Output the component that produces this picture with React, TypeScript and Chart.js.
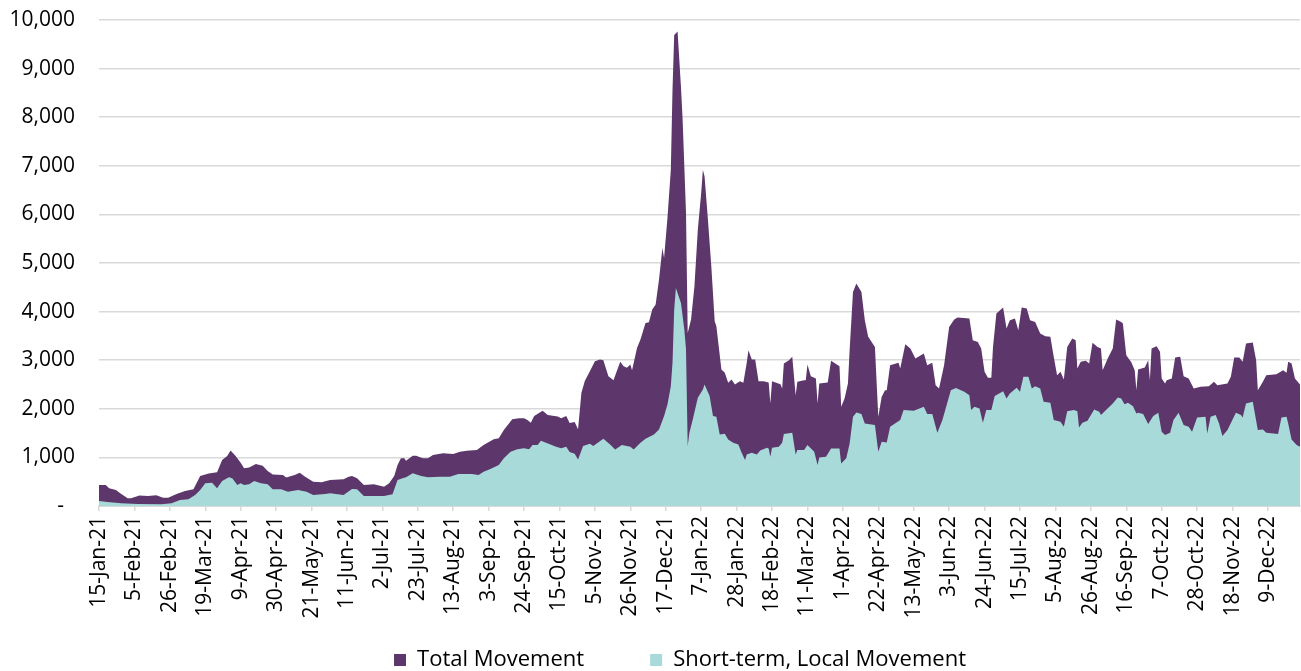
import React, { useEffect, useRef } from 'react';
import { Chart, registerables } from 'chart.js';

Chart.register(...registerables);

const tickLabels = [
  '15-Jan-21', '5-Feb-21', '26-Feb-21', '19-Mar-21', '9-Apr-21', '30-Apr-21', '21-May-21', '11-Jun-21',
  '2-Jul-21', '23-Jul-21', '13-Aug-21', '3-Sep-21', '24-Sep-21', '15-Oct-21', '5-Nov-21', '26-Nov-21',
  '17-Dec-21', '7-Jan-22', '28-Jan-22', '18-Feb-22', '11-Mar-22', '1-Apr-22', '22-Apr-22', '13-May-22',
  '3-Jun-22', '24-Jun-22', '15-Jul-22', '5-Aug-22', '26-Aug-22', '16-Sep-22', '7-Oct-22', '28-Oct-22',
  '18-Nov-22', '9-Dec-22',
];

// days since 15-Jan-21
const totalDays = [
  0, 4, 6, 10, 13, 17, 19, 24, 29, 34, 38, 41, 46, 51, 56, 60, 65, 70, 73, 76, 78, 81, 84, 86, 89, 93, 97,
  100, 103, 109, 111, 116, 119, 122, 127, 132, 137, 145, 148, 150, 153, 157, 163, 169, 172, 175, 177, 179,
  181, 182, 186, 188, 192, 195, 198, 204, 210, 214, 218, 224, 228, 234, 237, 240, 245, 249, 252, 254, 256,
  258, 263, 266, 272, 274, 277, 279, 282, 284, 286, 288, 291, 294, 297, 299, 302, 305, 309, 311, 313, 315,
  316, 319, 321, 324, 326, 328, 330, 332, 334, 335, 337, 339, 340, 341, 343, 345, 346, 348, 349, 351, 353,
  355, 357, 358, 359, 361, 363, 365, 366, 369, 371, 373, 375, 377, 380, 382, 384, 385, 387, 389, 391, 394,
  397, 398, 399, 404, 405, 406, 409, 411, 413, 414, 418, 419, 420, 422, 425, 426, 427, 432, 434, 439, 440,
  442, 444, 445, 447, 449, 452, 454, 456, 460, 462, 464, 466, 467, 469, 474, 475, 478, 481, 484, 489, 491,
  494, 496, 498, 501, 504, 507, 509, 516, 518, 521, 523, 525, 527, 529, 530, 532, 536, 538, 540, 543, 545,
  547, 550, 552, 555, 558, 561, 564, 566, 568, 570, 572, 574, 577, 579, 580, 582, 585, 587, 589, 592, 594,
  595, 598, 601, 603, 606, 607, 609, 612, 614, 615, 616, 620, 622, 623, 624, 627, 629, 630, 632, 633, 636,
  638, 641, 643, 646, 649, 653, 658, 661, 663, 669, 671, 673, 676, 678, 680, 684, 686, 687, 690, 692, 698,
  702, 704, 705, 707, 709, 712,
];
const totalValues = [
  430, 430, 365, 330, 250, 160, 160, 215, 205, 220, 170, 170, 245, 310, 345, 615, 670, 695, 945, 1030, 1140,
  1030, 890, 775, 790, 865, 830, 720, 650, 640, 585, 640, 685, 605, 500, 490, 535, 549, 604, 617, 569, 432,
  446, 398, 466, 617, 844, 981, 981, 933, 1036, 1036, 981, 981, 1050, 1084, 1070, 1118, 1139, 1152, 1255,
  1372, 1392, 1564, 1784, 1804, 1804, 1770, 1715, 1852, 1962, 1873, 1839, 1804, 1852, 1710, 1730, 1580,
  2330, 2570, 2774, 2980, 3014, 3000, 2672, 2589, 2966, 2877, 2843, 2911, 2795, 3254, 3425, 3768, 3781,
  4042, 4144, 4658, 5309, 5104, 5925, 6919, 8563, 9693, 9761, 8631, 7946, 6028, 3562, 3836, 4521, 5686,
  6439, 6919, 6782, 5891, 4932, 3802, 3699, 2809, 2740, 2535, 2603, 2500, 2569, 2535, 2946, 3206, 3014,
  3014, 2569, 2569, 2540, 2110, 2569, 2507, 2418, 2932, 3000, 3069, 2281, 2555, 2589, 2589, 2911, 2672,
  2624, 2110, 2521, 2541, 2987, 2877, 2041, 2213, 2521, 3206, 4405, 4576, 4405, 3822, 3480, 3274, 1836,
  2247, 2384, 2384, 2898, 2946, 2829, 3329, 3240, 3035, 3137, 2898, 2946, 2487, 2418, 2898, 3685, 3840,
  3877, 3856, 3411, 3377, 3240, 2761, 2637, 2637, 3274, 3959, 4083, 3651, 3822, 3856, 3617, 4083, 4062,
  3822, 3788, 3548, 3494, 3480, 3069, 2692, 2761, 2603, 3274, 3446, 3411, 2829, 2966, 2987, 2932, 3357,
  3274, 3240, 2795, 3035, 3240, 3836, 3788, 3754, 3103, 2960, 2795, 2384, 2809, 2850, 3000, 2589, 3240,
  3288, 3172, 2624, 2521, 2589, 2624, 3055, 3069, 2672, 2624, 2418, 2452, 2466, 2555, 2487, 2521, 2658,
  3055, 3055, 2966, 3343, 3363, 3000, 2384, 2555, 2692, 2713, 2795, 2740, 2966, 2932, 2624, 2500,
];

const localDays = [
  0, 5, 13, 23, 37, 43, 48, 53, 57, 60, 63, 67, 70, 73, 77, 79, 82, 84, 86, 89, 92, 96, 100, 103, 108, 112,
  118, 123, 127, 134, 137, 145, 150, 153, 157, 169, 174, 177, 180, 182, 186, 191, 195, 202, 208, 213, 221,
  225, 228, 232, 237, 240, 244, 248, 252, 255, 257, 260, 262, 265, 271, 274, 277, 279, 282, 284, 287, 291,
  293, 299, 303, 306, 310, 315, 317, 321, 324, 329, 332, 335, 337, 339, 340, 341, 342, 345, 347, 348, 349,
  350, 352, 355, 358, 359, 362, 364, 366, 368, 371, 373, 376, 379, 381, 383, 384, 387, 390, 392, 396, 397,
  398, 399, 403, 405, 406, 411, 413, 414, 418, 420, 424, 426, 427, 431, 434, 439, 440, 443, 445, 447, 449,
  452, 454, 460, 462, 464, 467, 469, 475, 477, 483, 489, 491, 494, 497, 500, 505, 508, 513, 516, 517, 519,
  522, 524, 526, 529, 531, 536, 538, 540, 544, 546, 548, 551, 553, 555, 558, 560, 564, 566, 570, 572, 574,
  578, 580, 581, 583, 586, 590, 593, 594, 597, 601, 604, 606, 608, 610, 613, 615, 616, 619, 622, 625, 628,
  630, 632, 635, 637, 640, 643, 646, 648, 651, 656, 657, 659, 662, 664, 666, 669, 674, 677, 678, 680, 684,
  687, 690, 692, 699, 701, 704, 705, 707, 710, 712,
];
const localValues = [
  103, 82, 55, 41, 34, 55, 123, 137, 226, 329, 466, 480, 364, 514, 590, 570, 432, 466, 432, 446, 514, 466,
  446, 343, 343, 295, 329, 295, 226, 247, 261, 226, 350, 343, 206, 206, 240, 535, 569, 590, 672, 617, 590,
  604, 604, 659, 659, 638, 707, 761, 844, 981, 1118, 1166, 1187, 1166, 1255, 1255, 1344, 1303, 1221, 1187,
  1221, 1110, 1075, 955, 1233, 1281, 1233, 1384, 1267, 1165, 1254, 1219, 1165, 1302, 1384, 1473, 1575,
  1850, 2089, 2466, 2946, 4042, 4487, 4179, 3631, 3220, 1233, 1507, 1781, 2226, 2398, 2500, 2261, 1850,
  1836, 1473, 1487, 1370, 1302, 1267, 1096, 945, 1062, 1096, 1062, 1140, 1200, 1185, 1014, 1199, 1219,
  1302, 1480, 1507, 1062, 1151, 1151, 1254, 1117, 843, 1000, 1014, 1185, 1185, 877, 980, 1288, 1836, 1925,
  1891, 1699, 1665, 1117, 1322, 1308, 1630, 1767, 1973, 1959, 2041, 1891, 1891, 1507, 1767, 2384, 2430,
  2350, 2281, 1973, 2041, 2007, 1713, 1973, 1973, 2261, 2363, 2213, 2315, 2432, 2350, 2658, 2658, 2418,
  2466, 2418, 2144, 2124, 1767, 1733, 1630, 1952, 1973, 1952, 1617, 1713, 1754, 1987, 1939, 1870, 1973,
  2110, 2233, 2213, 2096, 2124, 2055, 1904, 1918, 1891, 1685, 1850, 1918, 1528, 1459, 1507, 1767, 1918,
  1665, 1630, 1528, 1822, 1836, 1493, 1836, 1870, 1699, 1439, 1562, 1918, 1870, 1822, 2110, 2144, 1562,
  1576, 1507, 1480, 1822, 1836, 1699, 1370, 1254, 1219,
];

const PURPLE = '#5d366b';
const TEAL = '#a8dad9';
const FONT = "'Open Sans', sans-serif";
const LAST_DAY = 712;
const TICK_STEP_DAYS = 21;

export default function App() {
  const ref = useRef<HTMLCanvasElement>(null);

  useEffect(() => {
    if (!ref.current) return;
    const layoutTweak = {
      id: 'layoutTweak',
      afterLayout(chart: any) {
        const lg = chart.legend;
        if (lg) {
          lg.left += 30;
          lg.right += 30;
        }
        const xs = chart.scales.x;
        if (xs) xs.bottom = chart.height;
      },
    };
    const chart = new Chart(ref.current, {
      type: 'line',
      data: {
        datasets: [
          {
            label: 'Total Movement',
            data: totalDays.map((d, i) => ({ x: d, y: totalValues[i] })),
            backgroundColor: PURPLE,
            borderColor: PURPLE,
            borderWidth: 0,
            fill: 'origin',
            pointRadius: 0,
            tension: 0,
            order: 1,
          },
          {
            label: 'Short-term, Local Movement',
            data: localDays.map((d, i) => ({ x: d, y: localValues[i] })),
            backgroundColor: TEAL,
            borderColor: TEAL,
            borderWidth: 0,
            fill: 'origin',
            pointRadius: 0,
            tension: 0,
            order: 0,
          },
        ],
      },
      options: {
        animation: false,
        responsive: true,
        maintainAspectRatio: false,
        layout: { padding: { top: 20, right: 1, left: 0, bottom: 0 } },
        plugins: {
          legend: {
            position: 'bottom',
            maxHeight: 88,
            labels: {
              boxWidth: 12,
              boxHeight: 12,
              padding: 66,
              color: '#000',
              font: { family: FONT, size: 22 },
              sort: (a: any, b: any) => a.datasetIndex - b.datasetIndex,
            },
          },
          tooltip: { enabled: false },
        },
        scales: {
          x: {
            type: 'linear',
            min: 0,
            max: LAST_DAY,
            afterBuildTicks: (s: any) => {
              s.ticks = tickLabels.map((_, i) => ({ value: i * TICK_STEP_DAYS }));
            },
            afterFit: (s: any) => {
              s.height = 77;
            },
            grid: { drawOnChartArea: false, drawTicks: true, tickLength: 5, color: '#d9d9d9', lineWidth: 1.5 },
            border: { color: '#d9d9d9', width: 2 },
            ticks: {
              autoSkip: false,
              minRotation: 90,
              maxRotation: 90,
              padding: 5,
              color: '#000',
              font: { family: FONT, size: 21 },
              callback: (v: any) => tickLabels[Math.round(Number(v) / TICK_STEP_DAYS)] ?? '',
            },
          },
          y: {
            min: 0,
            max: 10000,
            afterFit: (s: any) => {
              s.width = 99;
            },
            grid: { color: '#d9d9d9', lineWidth: 1.5, drawTicks: true, tickLength: 21, tickColor: 'rgba(0,0,0,0)' },
            border: { display: false },
            ticks: {
              stepSize: 1000,
              padding: 3,
              color: '#000',
              font: { family: FONT, size: 21 },
              callback: (v: any) => (Number(v) === 0 ? '-  ' : Number(v).toLocaleString('en-US')),
            },
          },
        },
      },
      plugins: [layoutTweak],
    });
    return () => chart.destroy();
  }, []);

  return (
    <div style={{ position: 'fixed', left: 0, top: 0, width: 1301, height: 671 }}>
      <canvas ref={ref} />
    </div>
  );
}
